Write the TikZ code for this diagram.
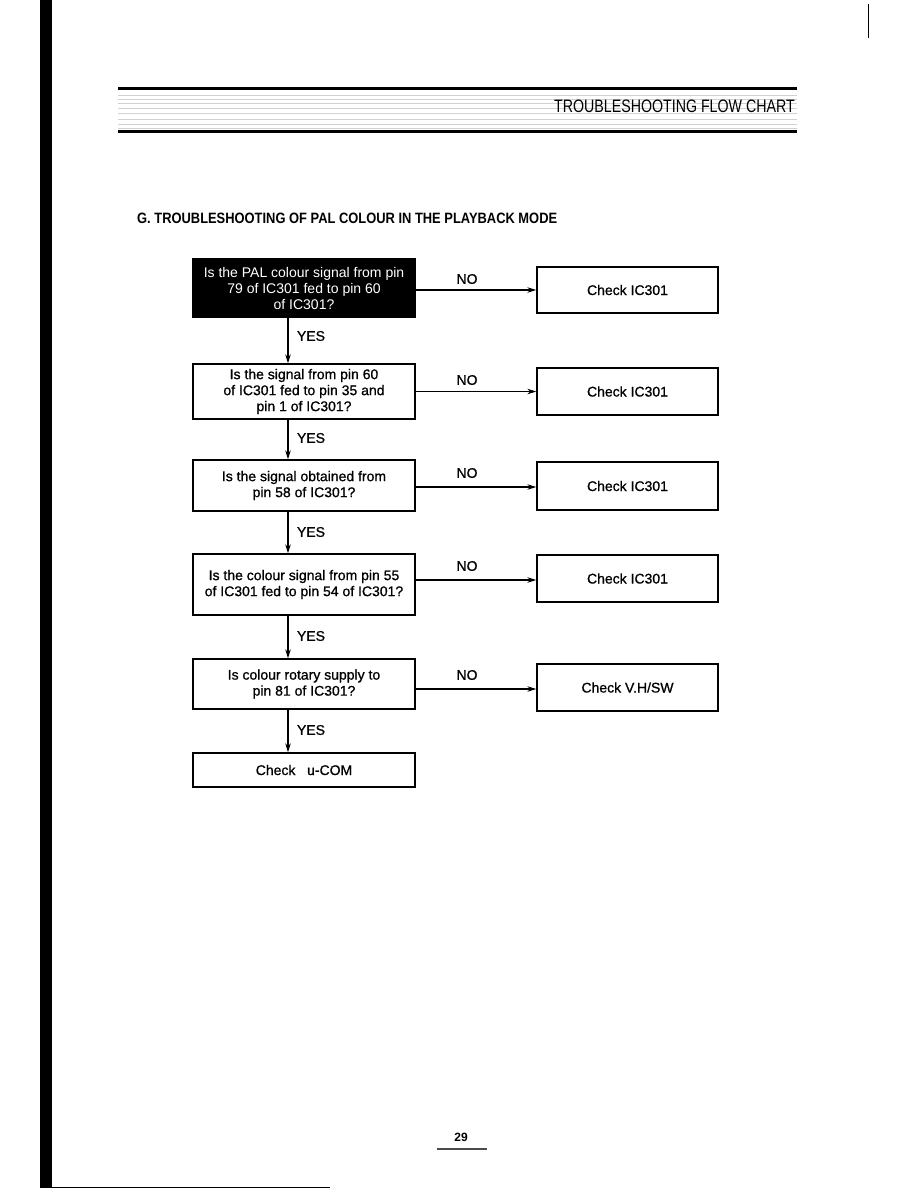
\documentclass[tikz,border=0pt]{standalone}
\usepackage{fontspec}
\setmainfont{Liberation Sans}
\newfontfamily\semib[FakeBold=0.9]{Liberation Sans}
\usetikzlibrary{arrows.meta}
\tikzset{
  qbox/.style={draw=black, line width=1.4pt, minimum width=222pt, align=center, inner sep=2pt, font=\semib\fontsize{14}{16}\selectfont},
  cbox/.style={draw=black, line width=1.4pt, minimum width=181pt, align=center, font=\semib\fontsize{14}{16}\selectfont},
  lbl/.style={font=\semib\fontsize{14}{16}\selectfont, inner sep=0pt},
  flow/.style={line width=1.1pt, -{Stealth[length=9pt,width=5.5pt]}},
  texture/.style={line width=0.4pt, black!18},
}
\begin{document}
\begin{tikzpicture}[x=1pt,y=-1pt]
\useasboundingbox (0,0) rectangle (918,1188);
% page edge marks
\fill[black] (40,0) rectangle (52,1188);
\draw[line width=0.8pt] (40,1187) -- (330,1187);
\draw[line width=0.8pt] (868,4) -- (868,38);
% header
\draw[line width=3pt] (118,89) -- (797,89);
\draw[line width=3pt] (118,132) -- (797,132);
\foreach \yy in {95,99,103,108,113,119,124,128}{\draw[texture] (118,\yy) -- (797,\yy);}
\node[anchor=east, inner sep=0pt, font=\fontsize{18}{18}\selectfont] (hdr) at (795,106) {\scalebox{0.79}[1]{TROUBLESHOOTING FLOW CHART}};
% title
\node[anchor=west, inner sep=0pt, font=\bfseries\fontsize{15}{15}\selectfont] (title) at (137,218) {\scalebox{0.86}[1]{G. TROUBLESHOOTING OF PAL COLOUR IN THE PLAYBACK MODE}};
% question boxes
\node[qbox, fill=black, text=white, font=\fontsize{14}{16}\selectfont, minimum height=58pt] (b1) at (304,288) {Is the PAL colour signal from pin\\79 of IC301 fed to pin 60\\of IC301?};
\node[qbox, minimum height=55pt] (b2) at (304,391.5) {Is the signal from pin 60\\of IC301 fed to pin 35 and\\pin 1 of IC301?};
\node[qbox, minimum height=51pt] (b3) at (304,485.5) {Is the signal obtained from\\pin 58 of IC301?};
\node[qbox, minimum height=61pt] (b4) at (304,584.5) {Is the colour signal from pin 55\\of IC301 fed to pin 54 of IC301?};
\node[qbox, minimum height=50pt] (b5) at (304,684) {Is colour rotary supply to\\pin 81 of IC301?};
\node[qbox, minimum height=34pt] (b6) at (304,770) {Check\ \ \ u-COM};
% check boxes
\node[cbox, minimum height=46pt] (c1) at (627.5,290) {Check IC301};
\node[cbox, minimum height=47pt] (c2) at (627.5,391.5) {Check IC301};
\node[cbox, minimum height=48pt] (c3) at (627.5,486) {Check IC301};
\node[cbox, minimum height=47pt] (c4) at (627.5,578.5) {Check IC301};
\node[cbox, minimum height=47pt] (c5) at (627.5,687.5) {Check V.H/SW};
% NO arrows
\draw[flow] (c1.west -| b1.east) -- (c1.west);
\draw[flow] (c2.west -| b2.east) -- (c2.west);
\draw[flow] ([yshift=-1pt]c3.west -| b3.east) -- ([yshift=-1pt]c3.west);
\draw[flow] ([yshift=-1.5pt]c4.west -| b4.east) -- ([yshift=-1.5pt]c4.west);
\draw[flow] ([yshift=-1.5pt]c5.west -| b5.east) -- ([yshift=-1.5pt]c5.west);
\node[lbl] (n1) at (467,279) {NO};
\node[lbl] (n2) at (467,380) {NO};
\node[lbl] (n3) at (467,473) {NO};
\node[lbl] (n4) at (467,566) {NO};
\node[lbl] (n5) at (467,675) {NO};
% YES arrows
\draw[flow] ([xshift=-16pt]b1.south) -- ([xshift=-16pt]b2.north);
\draw[flow] ([xshift=-16pt]b2.south) -- ([xshift=-16pt]b3.north);
\draw[flow] ([xshift=-16pt]b3.south) -- ([xshift=-16pt]b4.north);
\draw[flow] ([xshift=-16pt]b4.south) -- ([xshift=-16pt]b5.north);
\draw[flow] ([xshift=-16pt]b5.south) -- ([xshift=-16pt]b6.north);
\node[lbl] (y1) at (311,336) {YES};
\node[lbl] (y2) at (311,438) {YES};
\node[lbl] (y3) at (311,532) {YES};
\node[lbl] (y4) at (311,636) {YES};
\node[lbl] (y5) at (311,730) {YES};
% page number
\node[inner sep=0pt, font=\bfseries\fontsize{12}{12}\selectfont] (pg) at (461,1137) {29};
\draw[line width=1.2pt, black!70] (437,1149) -- (487,1149);
\end{tikzpicture}
\end{document}
